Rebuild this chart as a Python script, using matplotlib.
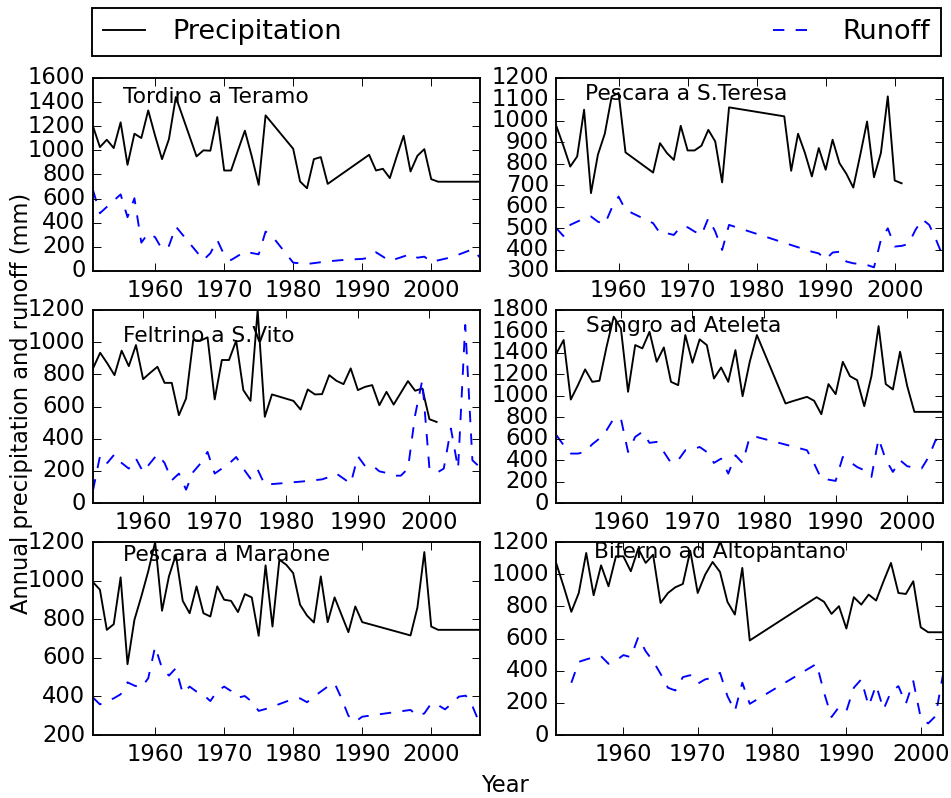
import matplotlib
matplotlib.use("Agg")
from matplotlib import pyplot as plt

plt.style.use('classic')
plt.rcParams['axes.formatter.useoffset'] = False

# station names (one per panel, row-wise)
stations = ['Tordino a Teramo', 'Pescara a S.Teresa', 'Feltrino a S.Vito',
            'Sangro ad Ateleta', 'Pescara a Maraone', 'Biferno ad Altopantano']

# Tordino a Teramo
tordino_p_years = list(range(1951, 1964)) + list(range(1966, 1977)) + list(range(1980, 1986)) + list(range(1991, 2008))
tordino_p = [1199, 1027, 1088, 1019, 1232, 880, 1138, 1102, 1331, 1120, 927, 1093, 1442,
             950, 1000, 997, 1276, 833, 833, 1000, 1163, 950, 714, 1290,
             1013, 742, 686, 927, 944, 722,
             963, 833, 847, 770, 950, 1121, 825, 955, 1010, 761, 740, 740, 740, 740, 740, 740, 740]
tordino_r_years = [1951, 1952, 1955, 1956, 1957, 1958, 1959, 1960, 1961, 1962, 1963, 1967, 1968,
                   1969, 1970, 1971, 1973, 1975, 1976, 1977, 1980, 1982, 1985, 1988, 1990, 1991,
                   1992, 1994, 1997, 1998, 1999, 2000, 2003, 2006, 2007]
tordino_r = [670, 479, 635, 446, 603, 235, 313, 280, 180, 208, 368, 91, 147,
             257, 133, 91, 160, 138, 327, 285, 69, 58, 80, 95, 100, 110,
             155, 83, 140, 110, 119, 75, 115, 180, 115]

# Pescara a S.Teresa
teresa_p_years = list(range(1951, 1962)) + list(range(1965, 1977)) + list(range(1984, 2002))
teresa_p = [974, 884, 787, 834, 1052, 663, 842, 940, 1114, 1130, 853,
            759, 896, 850, 818, 977, 862, 862, 884, 958, 904, 713, 1063,
            1021, 767, 940, 850, 741, 873, 772, 912, 803, 753, 689, 840, 997, 737, 850, 1114, 722, 709]
teresa_r_years = list(range(1951, 1962)) + list(range(1965, 1977)) + [1985] + list(range(1988, 2008))
teresa_r = [499, 463, 515, 530, 545, 554, 530, 518, 593, 647, 585,
            523, 476, 476, 468, 507, 504, 484, 468, 546, 484, 398, 515,
            421,
            390, 382, 354, 386, 390, 344, 336, 332, 328, 317, 445, 499, 414, 417, 426, 491, 541, 515, 445, 367]

# Feltrino a S.Vito
feltrino_p_years = list(range(1953, 1979)) + list(range(1981, 2002))
feltrino_p = [837, 934, 868, 795, 947, 851, 982, 770, 810, 847, 747, 747, 546, 650, 1013, 1009, 1030,
              644, 889, 889, 1009, 702, 635, 1200, 536, 675,
              635, 581, 706, 675, 677, 795, 760, 739, 837, 702, 722, 733, 608, 691, 612, 685,
              758, 698, 712, 521, 504]
feltrino_r_years = list(range(1953, 1978)) + [1980, 1983] + list(range(1985, 2008))
feltrino_r = [79, 297, 249, 303, 249, 214, 276, 193, 249, 303, 249, 141, 183, 83, 193, 245, 318,
              183, 214, 245, 286, 214, 152, 208, 114,
              125, 137,
              147, 162, 183, 152, 120, 291, 230, 235, 197, 187, 170, 170, 214, 546, 764, 214,
              187, 214, 463, 214, 1107, 266, 224]

# Sangro ad Ateleta
sangro_p_years = list(range(1951, 1980)) + list(range(1983, 2006))
sangro_p = [1395, 1520, 965, 1099, 1246, 1130, 1140, 1457, 1738, 1629, 1037, 1473, 1442, 1597, 1317,
            1451, 1130, 1099, 1566, 1308, 1526, 1473, 1161, 1264, 1130, 1426, 996, 1317, 1566,
            928, 950, 970, 990, 953, 828, 1109, 1015, 1317, 1183, 1146, 903, 1183, 1650, 1109,
            1059, 1411, 1090, 850, 850, 850, 850, 850]
sangro_r_years = list(range(1951, 1980)) + list(range(1986, 2006))
sangro_r = [632, 539, 461, 461, 476, 548, 601, 679, 788, 788, 476, 617, 663, 561, 570, 476, 374,
            399, 492, 498, 523, 476, 374, 414, 274, 445, 374, 617, 615,
            492, 367, 227, 218, 206, 430, 383, 336, 305, 243, 601, 405, 290, 399, 343, 330,
            321, 430, 592, 548]

# Pescara a Maraone
maraone_p_years = list(range(1951, 1991)) + list(range(1997, 2008))
maraone_p = [992, 953, 745, 774, 1017, 567, 797, 918, 1048, 1200, 844, 1022, 1134, 895, 831, 970,
             831, 814, 970, 901, 895, 837, 930, 913, 714, 1079, 762, 1108, 1082, 1039, 875, 819,
             783, 1022, 785, 913, 823, 733, 866, 785,
             716, 861, 1148, 762, 745, 745, 745, 745, 745, 745, 745]
maraone_r_years = list(range(1951, 1978)) + list(range(1980, 1991)) + list(range(1997, 2008))
maraone_r = [394, 359, 375, 390, 411, 473, 456, 446, 494, 658, 546, 508, 546, 416, 451, 425, 408,
             376, 428, 451, 428, 394, 402, 373, 325, 335, 347,
             387, 390, 370, 399, 425, 451, 468, 390, 300, 269, 295,
             330, 300, 312, 364, 355, 333, 364, 399, 404, 347, 261]

# Biferno ad Altopantano
biferno_p_years = list(range(1951, 1978)) + list(range(1986, 2004))
biferno_p = [1063, 919, 766, 883, 1132, 869, 1055, 925, 1111, 1111, 1018, 1159, 1070, 1121, 821,
             883, 919, 939, 1146, 883, 997, 1076, 1014, 828, 749, 1039, 588,
             857, 828, 753, 801, 662, 857, 811, 873, 836, 956, 1070, 883, 877, 956, 670, 639, 639, 639]
biferno_r_years = list(range(1953, 1978)) + list(range(1986, 2004))
biferno_r = [325, 455, 470, 484, 490, 443, 463, 497, 484, 608, 521, 459, 381, 294, 277, 360, 372,
             319, 346, 356, 387, 242, 149, 325, 194,
             443, 263, 112, 174, 149, 294, 346, 180, 310, 159, 269, 304, 194, 335, 108, 72, 118, 377]

p_years = [tordino_p_years, teresa_p_years, feltrino_p_years, sangro_p_years, maraone_p_years, biferno_p_years]
p_vals = [tordino_p, teresa_p, feltrino_p, sangro_p, maraone_p, biferno_p]
r_years = [tordino_r_years, teresa_r_years, feltrino_r_years, sangro_r_years, maraone_r_years, biferno_r_years]
r_vals = [tordino_r, teresa_r, feltrino_r, sangro_r, maraone_r, biferno_r]

y_limits = [(0, 1600), (300, 1200), (0, 1200), (0, 1800), (200, 1200), (0, 1200)]
y_steps = [200, 100, 200, 200, 200, 200]
# where the station name sits (axes fraction)
name_pos = [(0.077, 0.872), (0.075, 0.886), (0.078, 0.833),
            (0.077, 0.886), (0.077, 0.900), (0.098, 0.915)]

fig, axes = plt.subplots(3, 2, figsize=(951 / 136, 798 / 136), dpi=136)
fig.subplots_adjust(left=0.0978, right=0.9916, top=0.9023, bottom=0.0789, wspace=0.199, hspace=0.202)

for i, ax in enumerate(axes.flat):
	lp, = ax.plot(p_years[i], p_vals[i], 'k-', linewidth=1)
	lr, = ax.plot(r_years[i], r_vals[i], 'b--', linewidth=1, dashes=(6, 6))
	x0 = min(p_years[i][0], r_years[i][0])
	x1 = max(p_years[i][-1], r_years[i][-1])
	ax.set_xlim(x0, x1)
	ax.set_ylim(*y_limits[i])
	ax.set_yticks(range(y_limits[i][0], y_limits[i][1] + 1, y_steps[i]))
	ax.set_xticks([1960, 1970, 1980, 1990, 2000])
	ax.tick_params(labelsize=12)
	ax.text(name_pos[i][0], name_pos[i][1], stations[i], transform=ax.transAxes,
			fontsize=11.5, va='baseline', ha='left')

fig.legend([lp, lr], ['Precipitation', 'Runoff'], loc='lower left',
		   bbox_to_anchor=(92 / 951, 1 - 56 / 798, 849 / 951, 48 / 798),
		   mode='expand', ncol=2, borderaxespad=0, fontsize=14.4, numpoints=1,
		   handlelength=1.55, handletextpad=1.0, fancybox=False)

fig.text(0.023, 0.494, 'Annual precipitation and runoff (mm)', rotation=90,
		 ha='center', va='center', fontsize=12)
fig.text(0.531, 0.016, 'Year', ha='center', va='center', fontsize=12)

fig.savefig('out.png', dpi=136, facecolor='white')
